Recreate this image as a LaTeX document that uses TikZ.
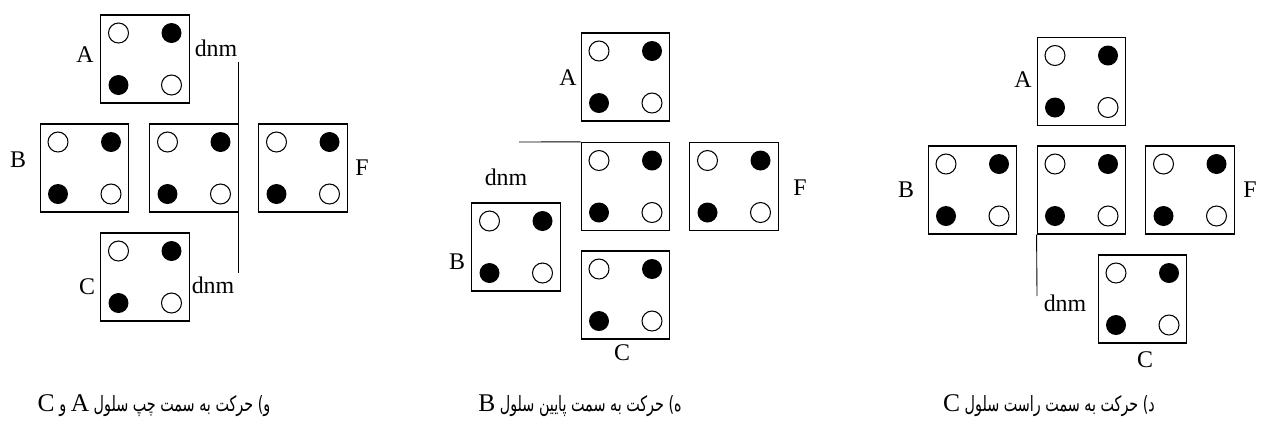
\documentclass[tikz,border=0pt]{standalone}
\usepackage{fontspec}
\setmainfont{Liberation Serif}
\newfontfamily\farsifont[Script=Arabic, FakeStretch=0.68]{DejaVu Sans}
\TeXXeTstate=1
\newcommand{\lat}[1]{\beginL{\rmfamily\fontsize{14.5}{16}\selectfont #1}\endL}

\begin{document}
\begin{tikzpicture}[x=0.02cm, y=-0.02cm, font=\fontsize{13.6}{16}\selectfont,
	cella/.style={draw, line width=0.8pt, minimum width=1.77cm, minimum height=1.76cm, inner sep=0pt},
	vuoto/.style={draw, line width=0.6pt, fill=white},
	pieno/.style={fill=black},
	linea/.style={line width=0.5pt},
	etichetta/.style={inner sep=0pt},
	didascalia/.style={inner sep=0pt, font=\fontsize{12}{14}\selectfont\farsifont}]

	\useasboundingbox (0,0) rectangle (1261,424);

	% ---- celle (nome/x/y) ----
	\foreach \n/\x/\y in {A1/145/59, B1/84.5/168, M1/194/168, F1/303/168, C1/145/277,
			A2/625.5/77, M2/625.5/186.5, F2/734/186.5, B2/516/247, C2/625.5/295,
			A3/1081.5/81.5, B3/972.5/190, M3/1081.5/190, F3/1190/190, C3/1142.5/299}{
			\node[cella] (\n) at (\x,\y) {};
			\draw[vuoto] (\x-26.5,\y-26) circle (0.2cm);
			\fill[pieno] (\x+26.5,\y-26) circle (0.2cm);
			\fill[pieno] (\x-26.5,\y+26) circle (0.2cm);
			\draw[vuoto] (\x+26.5,\y+26) circle (0.2cm);
		}

	% ---- etichette ----
	\foreach \t/\x/\y in {A/85/55, B/18/160, F/362/168, C/87/287,
			A/568/78, F/800/188, B/457/262, C/622/353,
			A/1023/80, B/906/190, F/1250/190, C/1145/360}{
			\node[etichetta] (l\t\x) at (\x,\y) {\t};
		}

	% ---- dnm e linee ----
	\node[etichetta] (d1a) at (216,48) {dnm};
	\node[etichetta] (d1b) at (213,285) {dnm};
	\coordinate (s1a) at (238,62);
	\coordinate (s1b) at (238,273);
	\draw[linea] (s1a) -- (s1b);

	\node[etichetta] (d2) at (506,177) {dnm};
	\coordinate (s2) at (519,142);
	\draw[linea] (s2) -- (M2.north west);

	\node[etichetta] (d3) at (1065,303) {dnm};
	\coordinate (s3) at (1037,296);
	\draw[linea] (M3.south west) -- (s3);

	% ---- didascalie ----
	\node[didascalia] (cap1) at (154,406) {\beginR و) حرکت به سمت چپ سلول \lat{A} و \lat{C}\endR};
	\node[didascalia] (cap2) at (580,406) {\beginR ه) حرکت به سمت پایین سلول \lat{B}\endR};
	\node[didascalia] (cap3) at (1049,406) {\beginR د) حرکت به سمت راست سلول \lat{C}\endR};

\end{tikzpicture}
\end{document}
